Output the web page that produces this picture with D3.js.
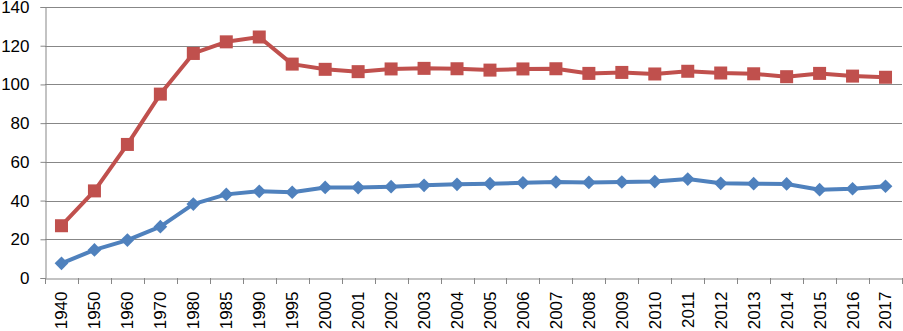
<!DOCTYPE html>
<html>
<head>
<meta charset="utf-8">
<script src="https://cdn.jsdelivr.net/npm/d3@7"></script>
<style>
  body { margin: 0; background: #fff; overflow: hidden; }
  svg { display: block; font-family: "Liberation Sans", Arial, sans-serif; }
</style>
</head>
<body>
<div id="chart"></div>
<script>
// categories along x
var years = ["1940","1950","1960","1970","1980","1985","1990","1995","2000","2001","2002","2003","2004",
             "2005","2006","2007","2008","2009","2010","2011","2012","2013","2014","2015","2016","2017"];

// red series (squares)
var redValues = [27, 45, 69, 95, 116, 122, 124.5, 110.5, 107.8, 106.6, 108, 108.3, 108.1,
                 107.4, 108, 108.1, 105.7, 106.2, 105.4, 106.8, 105.9, 105.5, 104, 105.7, 104.3, 103.7];

// blue series (diamonds)
var blueValues = [7.6, 14.5, 19.6, 26.5, 38.2, 43.2, 44.8, 44.3, 46.8, 46.7, 47.2, 47.9, 48.4,
                  48.7, 49.2, 49.6, 49.4, 49.6, 49.8, 51.1, 48.9, 48.7, 48.6, 45.6, 46.1, 47.4];

var yTicks = [0, 20, 40, 60, 80, 100, 120, 140];

var width = 903, height = 331;
var margin = {top: 7, right: 1, bottom: 53, left: 45};

var svg = d3.select("#chart").append("svg")
    .attr("width", width)
    .attr("height", height);

var x = d3.scaleBand()
    .domain(years)
    .range([margin.left, width - margin.right]);

var y = d3.scaleLinear()
    .domain([0, 140])
    .range([height - margin.bottom, margin.top]);

// gridlines
svg.append("g")
    .selectAll("line")
    .data(yTicks.filter(function(d) { return d > 0; }))
    .enter()
    .append("line")
    .attr("x1", margin.left)
    .attr("x2", width - margin.right)
    .attr("y1", function(d) { return Math.round(y(d)) + 0.5; })
    .attr("y2", function(d) { return Math.round(y(d)) + 0.5; })
    .style("stroke", "#878787")
    .style("stroke-width", 1);

// y axis
var yAxis = svg.append("g")
    .attr("transform", "translate(" + (margin.left + 0.5) + ",0)")
    .call(d3.axisLeft(y).tickValues(yTicks).tickSize(5).tickPadding(11));
yAxis.selectAll("text").style("font-size", "17px").style("fill", "#000");
yAxis.selectAll("line, path").style("stroke", "#878787");

// x axis
var xAxis = svg.append("g")
    .attr("transform", "translate(0," + (Math.round(y(0)) + 0.5) + ")")
    .call(d3.axisBottom(x).tickSize(0).tickSizeOuter(0));
xAxis.select(".domain").style("stroke", "#878787");
xAxis.selectAll(".tick line").remove();
xAxis.selectAll("text")
    .style("font-size", "17px")
    .style("fill", "#000")
    .attr("transform", "rotate(-90)")
    .attr("text-anchor", "start")
    .attr("dy", "0.35em")
    .attr("x", -(height - Math.round(y(0)) - 1) + 0)
    .attr("y", 0)
    .attr("text-anchor", "end")
    .attr("x", -13);

// category boundary ticks
svg.append("g")
    .selectAll("line")
    .data(years.concat(["end"]))
    .enter()
    .append("line")
    .attr("x1", function(d, i) { return Math.round(margin.left + i * x.step()) + 0.5; })
    .attr("x2", function(d, i) { return Math.round(margin.left + i * x.step()) + 0.5; })
    .attr("y1", Math.round(y(0)))
    .attr("y2", Math.round(y(0)) + 6)
    .style("stroke", "#878787");

var cx = function(d, i) { return x(years[i]) + x.bandwidth() / 2; };

var line = d3.line()
    .x(cx)
    .y(function(d) { return y(d); });

// red line + squares
svg.append("path")
    .datum(redValues)
    .attr("d", line)
    .style("fill", "none")
    .style("stroke", "#C0504D")
    .style("stroke-width", 4)
    .style("stroke-linejoin", "round");

svg.append("g")
    .selectAll("rect")
    .data(redValues)
    .enter()
    .append("rect")
    .attr("x", function(d, i) { return cx(d, i) - 6.5; })
    .attr("y", function(d) { return y(d) - 6.5; })
    .attr("width", 13)
    .attr("height", 13)
    .style("fill", "#C0504D");

// blue line + diamonds
svg.append("path")
    .datum(blueValues)
    .attr("d", line)
    .style("fill", "none")
    .style("stroke", "#4F81BD")
    .style("stroke-width", 4)
    .style("stroke-linejoin", "round");

svg.append("g")
    .selectAll("path")
    .data(blueValues)
    .enter()
    .append("path")
    .attr("d", d3.symbol().type(d3.symbolDiamond2).size(120))
    .attr("transform", function(d, i) { return "translate(" + cx(d, i) + "," + y(d) + ")"; })
    .style("fill", "#4F81BD");
</script>
</body>
</html>
